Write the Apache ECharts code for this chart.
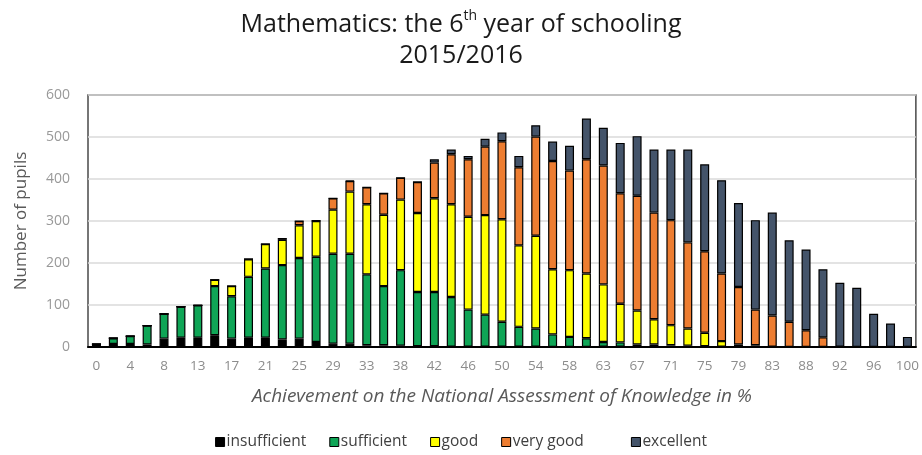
<!DOCTYPE html>
<html>
<head>
<meta charset="utf-8">
<script src="https://cdn.jsdelivr.net/npm/echarts@6/dist/echarts.min.js"></script>
<style>
  html, body { margin: 0; padding: 0; background: #fff; }
  #chart { width: 922px; height: 455px; }
</style>
</head>
<body>
<div id="chart"></div>
<script>
  // % achieved on the national assessment (every other one gets a label)
  let categories = ['0','2','4','6','8','10','13','15','17','19','21','23','25','27','29','31','33','35','38','40',
    '42','44','46','48','50','52','54','56','58','60','63','65','67','69','71','73','75','77','79','81',
    '83','85','88','90','92','94','96','98','100']

  // number of pupils per grade
  let insufficient = [6,7,7,6,20,22,22,28,20,22,22,18,20,12,8,8,4,4,3,2,
    2,1,1,1,1,1,1,0,0,0,1,1,1,1,0,0,0,0,0,0,
    0,0,0,0,0,0,0,0,0]
  let sufficient = [1,14,19,45,59,74,77,117,101,145,165,177,192,203,214,214,169,141,180,129,
    129,118,88,76,59,47,43,30,24,21,11,10,5,5,4,3,2,1,1,1,
    0,0,0,0,0,0,0,0,0]
  let good = [0,0,0,0,0,0,0,15,24,42,58,60,78,85,105,148,167,170,168,188,
    223,221,221,237,244,194,221,155,159,154,137,92,81,60,48,41,32,13,5,3,
    1,0,0,0,0,0,0,0,0]
  let veryGood = [0,0,0,0,0,0,0,0,0,0,0,3,10,1,27,25,40,51,52,74,
    85,119,137,163,186,186,236,258,237,272,283,263,273,254,250,205,194,161,137,85,
    74,60,40,23,1,0,0,0,0]
  let excellent = [0,0,0,0,0,0,0,0,0,0,0,0,0,0,0,1,0,0,0,0,
    8,11,8,19,21,27,27,46,59,97,90,120,142,150,168,221,207,222,200,213,
    245,194,192,162,152,141,79,56,24]

  let yTicks = [0, 100, 200, 300, 400, 500, 600]

  let chart = echarts.init(document.getElementById('chart'))

  let groups = [
    {name: 'insufficient', data: insufficient, color: '#000000'},
    {name: 'sufficient', data: sufficient, color: '#0fa556'},
    {name: 'good', data: good, color: '#ffff00'},
    {name: 'very good', data: veryGood, color: '#ed7d31'},
    {name: 'excellent', data: excellent, color: '#44546a'}
  ]

  let seriesData = []
  groups.forEach(g => {
    seriesData.push({
      name: g.name,
      type: 'bar',
      stack: 'grade',
      barWidth: 9,
      data: g.data,
      itemStyle: {
        color: g.color,
        borderColor: '#000',
        borderWidth: 1.2
      }
    })
  })

  let option = {
    animation: false,
    textStyle: { fontFamily: 'Open Sans' },
    title: {
      left: 'center',
      top: 4,
      text: '{a|Mathematics: the 6}{s|th}{a| year of schooling}\n{a|2015/2016}',
      textStyle: {
        rich: {
          a: { fontSize: 25, lineHeight: 31, color: '#1a1a1a', fontFamily: 'Open Sans', fontWeight: 'normal' },
          s: { fontSize: 14, lineHeight: 18, verticalAlign: 'top', color: '#1a1a1a', fontFamily: 'Open Sans', fontWeight: 'normal' }
        }
      }
    },
    legend: {
      bottom: 0,
      left: 'center',
      icon: 'rect',
      itemWidth: 9,
      itemHeight: 9,
      itemGap: 23,
      itemStyle: { borderColor: '#000', borderWidth: 1 },
      textStyle: { fontSize: 15.5, color: '#404040', padding: [0, 0, 0, -3] },
      formatter: name => name === 'very good' ? name + '      ' : name,
      data: groups.map(g => g.name)
    },
    grid: {
      left: 88,
      right: 6,
      top: 95,
      bottom: 108,
      show: true,
      borderColor: '#4a4a4a',
      borderWidth: 1.5,
      containLabel: false
    },
    xAxis: {
      type: 'category',
      data: categories,
      name: 'Achievement on the National Assessment of Knowledge in %',
      nameLocation: 'middle',
      nameGap: 40,
      nameTextStyle: { fontSize: 19, fontStyle: 'italic', color: '#595959' },
      axisLine: { lineStyle: { color: '#000', width: 2 } },
      axisTick: { show: false },
      axisLabel: { interval: 1, margin: 12, fontSize: 13.5, color: '#8c8c8c' }
    },
    yAxis: {
      type: 'value',
      min: yTicks[0],
      max: yTicks[yTicks.length - 1],
      interval: 100,
      name: 'Number of pupils',
      nameLocation: 'middle',
      nameGap: 58,
      nameTextStyle: { fontSize: 17, color: '#595959' },
      axisLine: { show: false },
      axisTick: { show: false },
      axisLabel: { margin: 18, fontSize: 14, color: '#999' },
      splitLine: { lineStyle: { color: '#dadada', width: 1.5 } }
    },
    series: seriesData
  }
  chart.setOption(option)
</script>
</body>
</html>
